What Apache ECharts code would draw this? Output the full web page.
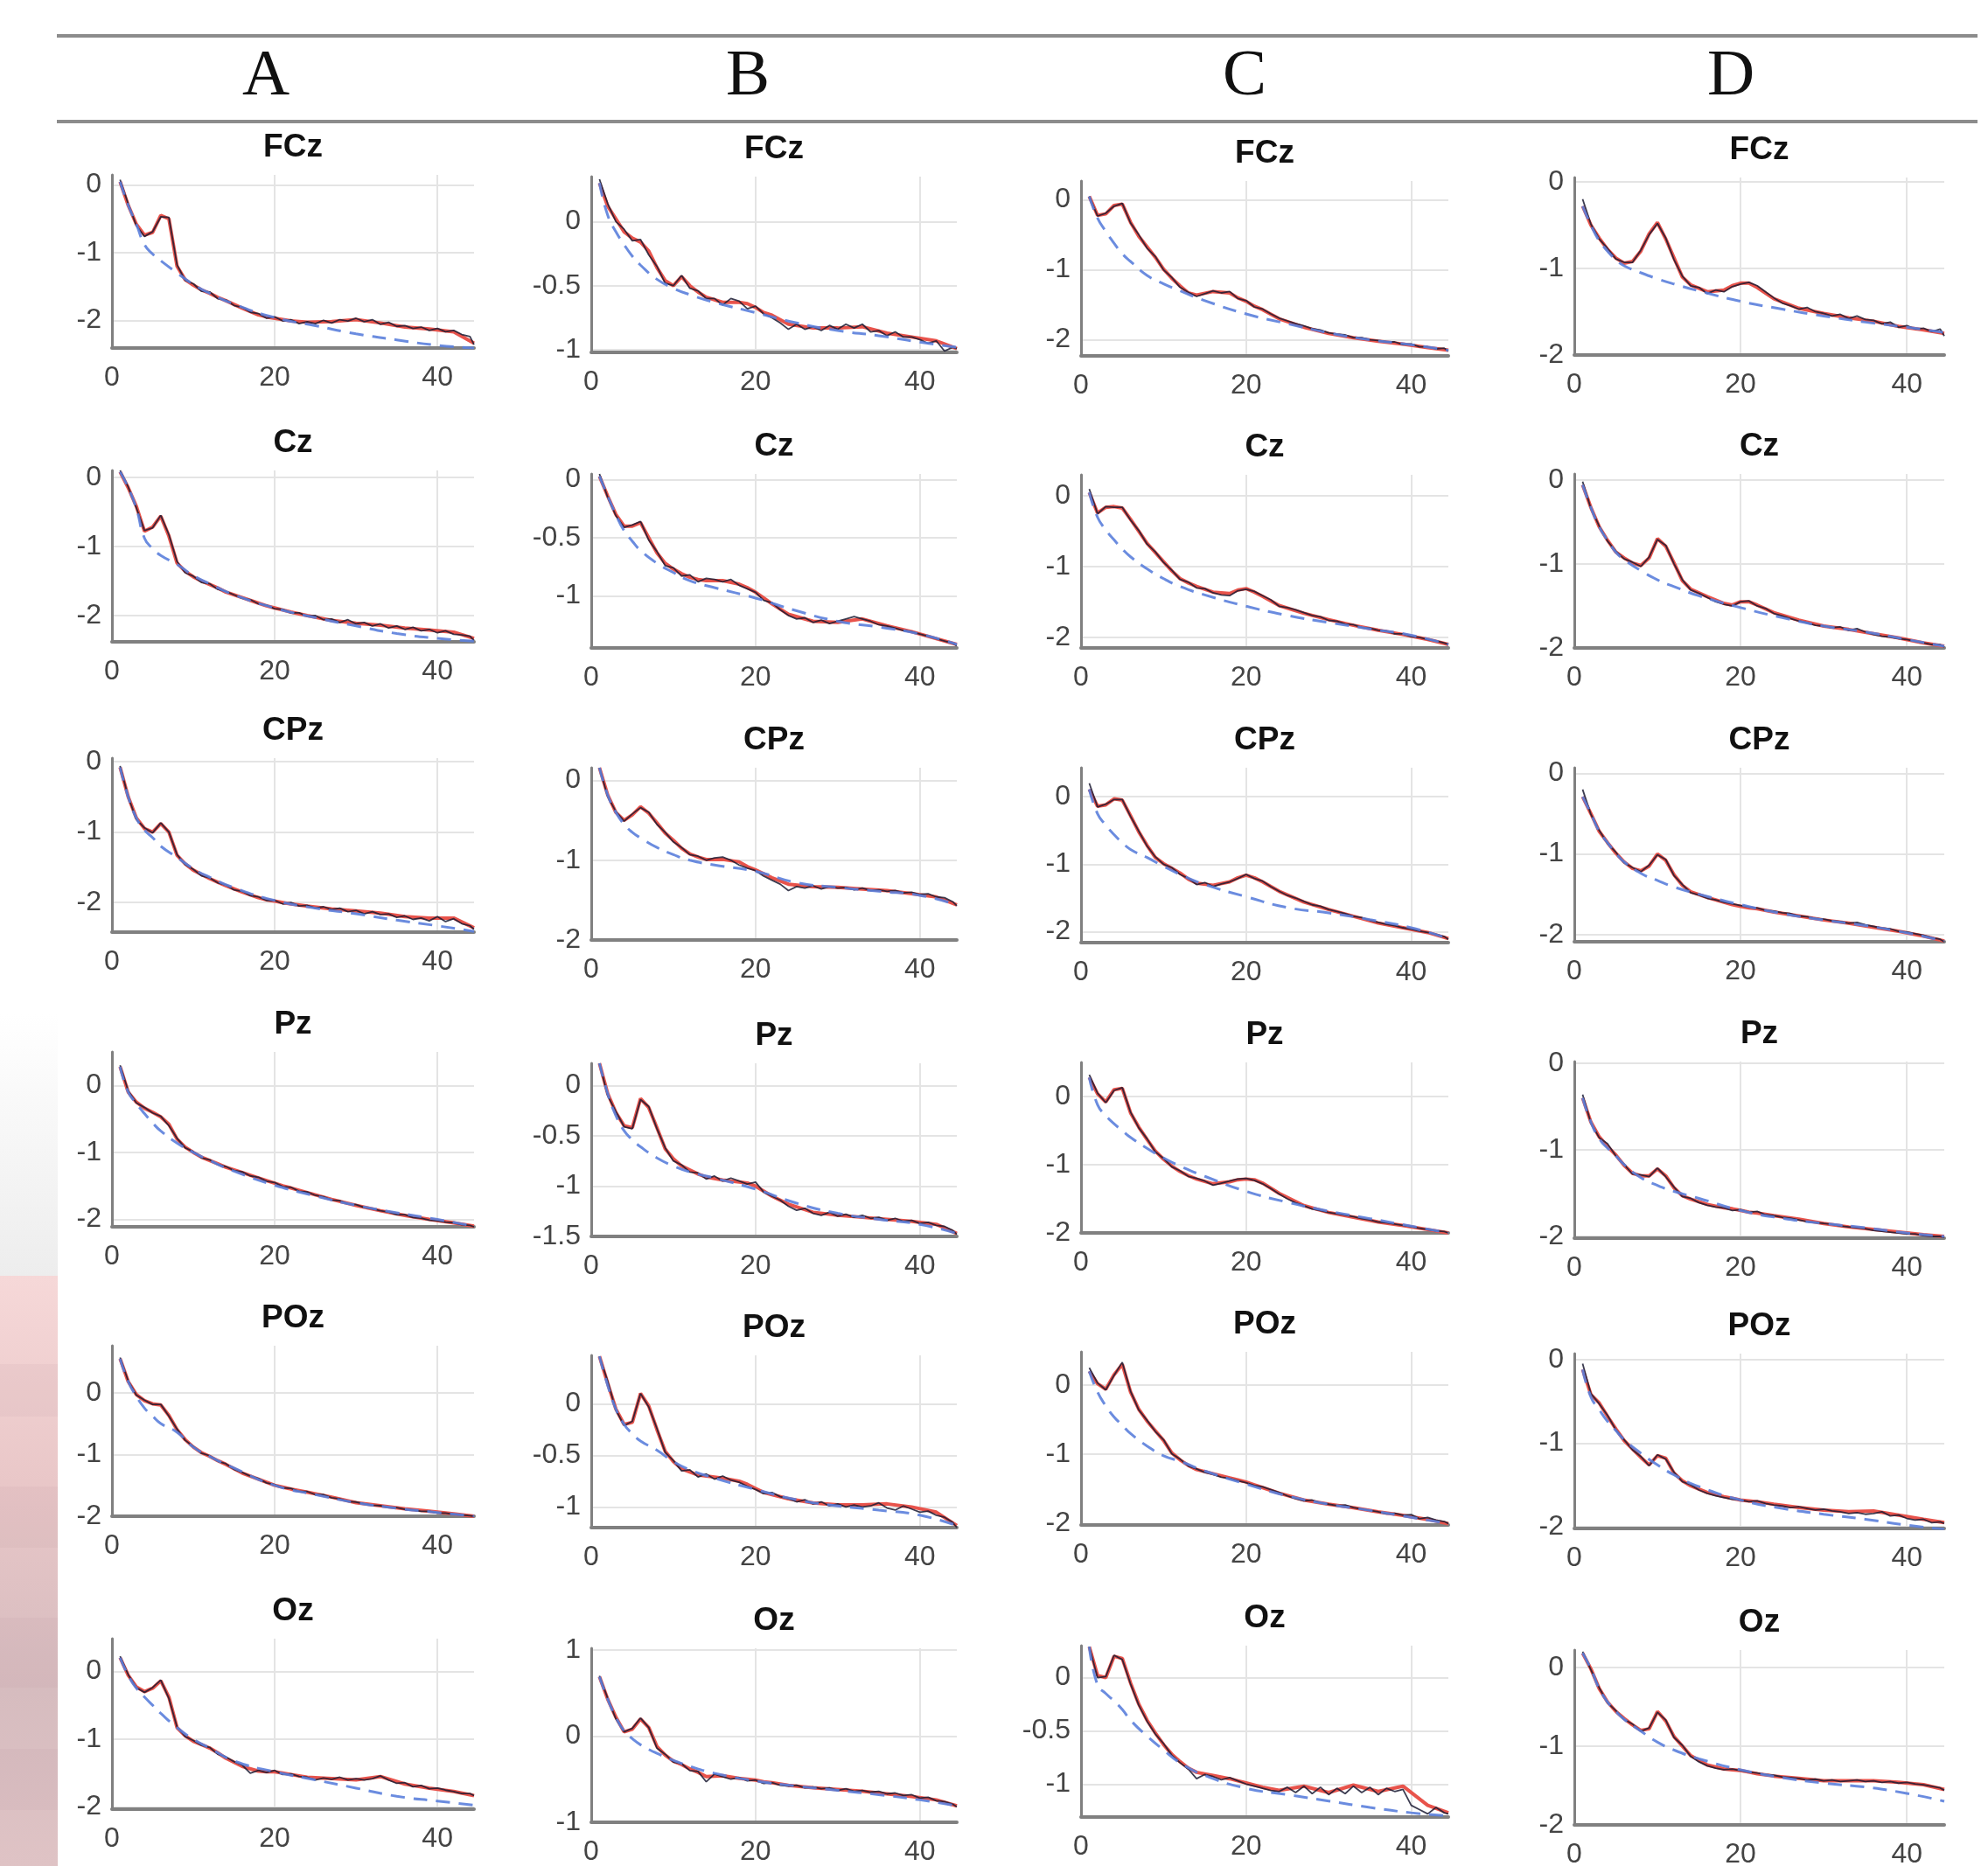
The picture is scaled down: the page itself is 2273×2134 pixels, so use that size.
<!DOCTYPE html>
<html>
<head>
<meta charset="utf-8">
<script src="https://cdn.jsdelivr.net/npm/echarts@6.0.0/dist/echarts.min.js"></script>
<style>
  html, body { margin: 0; padding: 0; background: #fff; }
  #chart { width: 2273px; height: 2134px; }
</style>
</head>
<body>
<div id="chart"></div>
<script>
// frequency grids (Hz)
const FREQ_RAW = [1, 2, 3, 4, 5, 6, 7, 8, 9, 10, 11, 12, 13, 14, 15, 16, 17, 18, 19, 20, 21, 22, 23, 24, 25, 26, 27, 28, 29, 30, 31, 32, 33, 34, 35, 36, 37, 38, 39, 40, 41, 42, 43, 44, 44.5];
const FREQ_FIT = [1, 2, 3, 4, 5, 6, 7, 8, 9, 10, 11, 12, 13, 14, 16, 18, 19, 20, 21, 22, 24, 27, 30, 33, 36, 39, 42, 44.5];
const FREQ_APER = [1, 2, 3, 4, 5, 6, 8, 10, 12, 15, 20, 25, 30, 35, 40, 44.5];

const COLUMNS = ['A', 'B', 'C', 'D'];
const CHANNELS = ['FCz', 'Cz', 'CPz', 'Pz', 'POz', 'Oz'];
const X_TICKS = [0, 20, 40];

// y ranges and tick labels, one entry per channel
const Y_RANGE_A = [[-2.41, 0.15], [-2.38, 0.1], [-2.42, 0.05], [-2.11, 0.5], [-2.0, 0.76], [-2.03, 0.48]];
const Y_RANGE_B = [[-1.02, 0.35], [-1.45, 0.05], [-2.0, 0.16], [-1.5, 0.22], [-1.2, 0.47], [-1.0, 1.02]];
const Y_RANGE_C = [[-2.23, 0.27], [-2.15, 0.3], [-2.16, 0.43], [-2.0, 0.5], [-2.02, 0.48], [-1.31, 0.3]];
const Y_RANGE_D = [[-2.0, 0.05], [-2.0, 0.07], [-2.09, 0.07], [-2.02, 0.02], [-2.02, 0.07], [-2.0, 0.22]];
const Y_TICKS_A = [[-2, -1, 0], [-2, -1, 0], [-2, -1, 0], [-2, -1, 0], [-2, -1, 0], [-2, -1, 0]];
const Y_TICKS_B = [[-1, -0.5, 0], [-1, -0.5, 0], [-2, -1, 0], [-1.5, -1, -0.5, 0], [-1, -0.5, 0], [-1, 0, 1]];
const Y_TICKS_C = [[-2, -1, 0], [-2, -1, 0], [-2, -1, 0], [-2, -1, 0], [-2, -1, 0], [-1, -0.5, 0]];
const Y_TICKS_D = [[-2, -1, 0], [-2, -1, 0], [-2, -1, 0], [-2, -1, 0], [-2, -1, 0], [-2, -1, 0]];

// measured spectrum (black)
const RAW_A = [
  [0.08, -0.28, -0.6, -0.76, -0.69, -0.47, -0.48, -1.18, -1.41, -1.46, -1.57, -1.58, -1.68, -1.7, -1.78, -1.81, -1.88, -1.9, -1.97, -1.95, -2.01, -1.99, -2.05, -2.02, -2.05, -2.0, -2.04, -1.99, -2.01, -1.97, -2.02, -1.99, -2.06, -2.03, -2.09, -2.08, -2.12, -2.1, -2.15, -2.12, -2.17, -2.15, -2.21, -2.24, -2.36],
  [0.1, -0.14, -0.44, -0.77, -0.73, -0.55, -0.83, -1.22, -1.38, -1.43, -1.52, -1.54, -1.62, -1.65, -1.7, -1.75, -1.77, -1.83, -1.85, -1.9, -1.91, -1.96, -1.96, -2.01, -2.0, -2.06, -2.05, -2.1, -2.06, -2.12, -2.1, -2.15, -2.12, -2.18, -2.15, -2.2, -2.17, -2.22, -2.2, -2.25, -2.22, -2.27, -2.28, -2.3, -2.36],
  [-0.06, -0.5, -0.82, -0.94, -1.01, -0.87, -1.0, -1.32, -1.46, -1.53, -1.62, -1.65, -1.72, -1.75, -1.82, -1.84, -1.9, -1.92, -1.97, -1.97, -2.02, -2.0, -2.05, -2.04, -2.08, -2.06, -2.1, -2.08, -2.13, -2.11, -2.16, -2.13, -2.17, -2.16, -2.21, -2.19, -2.24, -2.22, -2.26, -2.2, -2.27, -2.23, -2.3, -2.33, -2.38],
  [0.3, -0.08, -0.26, -0.33, -0.41, -0.46, -0.6, -0.79, -0.93, -0.99, -1.08, -1.11, -1.18, -1.21, -1.27, -1.29, -1.35, -1.37, -1.43, -1.45, -1.51, -1.52, -1.58, -1.59, -1.64, -1.66, -1.71, -1.72, -1.77, -1.78, -1.82, -1.84, -1.87, -1.89, -1.93, -1.93, -1.97, -1.98, -2.01, -2.02, -2.04, -2.05, -2.08, -2.09, -2.11],
  [0.57, 0.19, -0.04, -0.12, -0.19, -0.19, -0.38, -0.59, -0.77, -0.87, -0.98, -1.02, -1.11, -1.15, -1.24, -1.29, -1.35, -1.39, -1.46, -1.49, -1.54, -1.55, -1.6, -1.6, -1.65, -1.65, -1.7, -1.72, -1.76, -1.77, -1.8, -1.82, -1.83, -1.86, -1.86, -1.89, -1.9, -1.92, -1.92, -1.95, -1.95, -1.97, -1.98, -1.99, -2.0],
  [0.22, -0.05, -0.24, -0.31, -0.24, -0.13, -0.4, -0.82, -0.96, -1.02, -1.09, -1.12, -1.22, -1.26, -1.33, -1.38, -1.5, -1.46, -1.49, -1.46, -1.52, -1.51, -1.55, -1.56, -1.6, -1.57, -1.59, -1.56, -1.6, -1.58, -1.6, -1.58, -1.54, -1.6, -1.65, -1.64, -1.7, -1.68, -1.73, -1.72, -1.75, -1.77, -1.8, -1.8, -1.83]
];
const RAW_B = [
  [0.33, 0.14, 0.0, -0.06, -0.15, -0.14, -0.26, -0.35, -0.48, -0.5, -0.42, -0.52, -0.54, -0.6, -0.6, -0.65, -0.6, -0.62, -0.68, -0.66, -0.72, -0.75, -0.79, -0.84, -0.8, -0.84, -0.82, -0.85, -0.81, -0.84, -0.8, -0.83, -0.8, -0.86, -0.85, -0.89, -0.86, -0.9, -0.9, -0.92, -0.95, -0.93, -1.01, -0.98, -0.99],
  [0.05, -0.15, -0.31, -0.41, -0.39, -0.36, -0.52, -0.62, -0.74, -0.76, -0.83, -0.82, -0.88, -0.85, -0.86, -0.88, -0.86, -0.91, -0.94, -0.97, -1.04, -1.06, -1.12, -1.17, -1.2, -1.19, -1.23, -1.21, -1.24, -1.22, -1.2, -1.18, -1.2, -1.22, -1.25, -1.26, -1.28, -1.3, -1.31, -1.33, -1.35, -1.37, -1.39, -1.41, -1.43],
  [0.16, -0.2, -0.39, -0.51, -0.42, -0.34, -0.4, -0.55, -0.65, -0.77, -0.84, -0.93, -0.95, -1.0, -0.97, -0.96, -1.0, -1.06, -1.1, -1.13, -1.2, -1.25, -1.3, -1.38, -1.33, -1.35, -1.32, -1.36, -1.33, -1.35, -1.34, -1.37, -1.35, -1.38, -1.37, -1.39, -1.38, -1.41, -1.4, -1.43, -1.42, -1.46, -1.47, -1.52, -1.57],
  [0.22, -0.1, -0.26, -0.41, -0.43, -0.14, -0.21, -0.43, -0.62, -0.75, -0.79, -0.86, -0.87, -0.93, -0.9, -0.95, -0.92, -0.95, -0.98, -0.96, -1.06, -1.1, -1.14, -1.2, -1.24, -1.22, -1.27, -1.29, -1.26, -1.3, -1.28, -1.31, -1.29, -1.32, -1.31, -1.34, -1.32, -1.35, -1.34, -1.37, -1.36, -1.39, -1.4, -1.44, -1.48],
  [0.46, 0.22, -0.06, -0.21, -0.17, 0.1, -0.03, -0.24, -0.47, -0.55, -0.65, -0.64, -0.71, -0.68, -0.73, -0.7, -0.74, -0.76, -0.8, -0.83, -0.87, -0.86, -0.9, -0.92, -0.95, -0.93, -0.97, -0.95, -0.99, -0.97, -1.0, -0.98, -1.0, -0.99, -0.96, -1.01, -1.03, -0.99, -1.02, -1.05, -1.04, -1.08, -1.1, -1.15, -1.2],
  [0.7, 0.44, 0.2, 0.05, 0.09, 0.21, 0.1, -0.14, -0.21, -0.3, -0.32, -0.4, -0.41, -0.53, -0.44, -0.47, -0.5, -0.48, -0.52, -0.51, -0.55, -0.54, -0.57, -0.58, -0.57, -0.6, -0.59, -0.61, -0.6, -0.63, -0.61, -0.64, -0.63, -0.65, -0.64, -0.67, -0.66, -0.69, -0.68, -0.72, -0.71, -0.75, -0.76, -0.79, -0.82]
];
const RAW_C = [
  [0.05, -0.23, -0.19, -0.09, -0.05, -0.33, -0.5, -0.69, -0.81, -1.0, -1.11, -1.25, -1.32, -1.38, -1.34, -1.3, -1.33, -1.31, -1.41, -1.44, -1.53, -1.56, -1.63, -1.69, -1.73, -1.77, -1.8, -1.84, -1.86, -1.9, -1.92, -1.93, -1.97, -1.97, -2.0, -2.01, -2.03, -2.03, -2.07, -2.06, -2.1, -2.1, -2.13, -2.12, -2.16],
  [0.1, -0.25, -0.15, -0.16, -0.16, -0.34, -0.49, -0.68, -0.79, -0.94, -1.05, -1.18, -1.22, -1.3, -1.31, -1.37, -1.4, -1.41, -1.34, -1.32, -1.35, -1.41, -1.47, -1.56, -1.58, -1.61, -1.65, -1.69, -1.71, -1.76, -1.77, -1.81, -1.82, -1.86, -1.87, -1.9, -1.91, -1.95, -1.95, -1.99, -2.0, -2.03, -2.05, -2.08, -2.1],
  [0.2, -0.15, -0.11, -0.04, -0.04, -0.29, -0.51, -0.73, -0.89, -1.0, -1.05, -1.15, -1.21, -1.3, -1.27, -1.33, -1.29, -1.26, -1.21, -1.15, -1.21, -1.25, -1.33, -1.4, -1.46, -1.5, -1.55, -1.6, -1.62, -1.67, -1.7, -1.73, -1.77, -1.79, -1.83, -1.86, -1.89, -1.91, -1.94, -1.96, -1.99, -2.01, -2.04, -2.07, -2.11],
  [0.32, 0.05, -0.09, 0.09, 0.13, -0.23, -0.46, -0.62, -0.81, -0.91, -1.03, -1.09, -1.17, -1.2, -1.24, -1.3, -1.27, -1.24, -1.21, -1.2, -1.23, -1.28, -1.35, -1.43, -1.5, -1.56, -1.6, -1.65, -1.67, -1.7, -1.72, -1.74, -1.76, -1.79, -1.81, -1.84, -1.85, -1.87, -1.89, -1.91, -1.93, -1.95, -1.97, -1.98, -2.0],
  [0.25, 0.03, -0.07, 0.14, 0.33, -0.09, -0.36, -0.51, -0.67, -0.79, -0.99, -1.07, -1.17, -1.21, -1.26, -1.29, -1.33, -1.35, -1.38, -1.41, -1.45, -1.47, -1.51, -1.55, -1.6, -1.64, -1.67, -1.66, -1.7, -1.72, -1.74, -1.73, -1.77, -1.79, -1.81, -1.83, -1.86, -1.85, -1.88, -1.87, -1.93, -1.91, -1.95, -1.97, -2.0],
  [0.29, 0.0, 0.01, 0.21, 0.17, -0.06, -0.26, -0.41, -0.53, -0.62, -0.73, -0.8, -0.86, -0.95, -0.91, -0.93, -0.96, -0.94, -0.97, -1.0, -1.02, -1.04, -1.06, -1.07, -1.03, -1.08, -1.02, -1.09, -1.03, -1.1, -1.04, -1.09, -1.02, -1.08, -1.03, -1.1, -1.04, -1.07, -1.05, -1.2, -1.24, -1.28, -1.22, -1.27, -1.28]
];
const RAW_D = [
  [-0.2, -0.49, -0.66, -0.77, -0.89, -0.93, -0.93, -0.79, -0.61, -0.48, -0.65, -0.9, -1.09, -1.2, -1.22, -1.29, -1.25, -1.27, -1.21, -1.18, -1.16, -1.2, -1.27, -1.34, -1.4, -1.43, -1.47, -1.45, -1.5, -1.52, -1.55, -1.53, -1.58, -1.55, -1.59, -1.6, -1.64, -1.62, -1.68, -1.66, -1.7, -1.69, -1.73, -1.7, -1.78],
  [-0.02, -0.34, -0.55, -0.73, -0.85, -0.94, -0.98, -1.03, -0.92, -0.71, -0.78, -1.0, -1.19, -1.31, -1.35, -1.4, -1.45, -1.48, -1.5, -1.45, -1.44, -1.5, -1.53, -1.59, -1.62, -1.65, -1.68, -1.7, -1.73, -1.74, -1.76, -1.75, -1.79, -1.77, -1.81, -1.84, -1.86, -1.87, -1.89, -1.9, -1.92, -1.94, -1.96, -1.96, -1.99],
  [-0.2, -0.51, -0.71, -0.87, -0.98, -1.11, -1.17, -1.22, -1.14, -1.01, -1.07, -1.27, -1.38, -1.48, -1.51, -1.55, -1.57, -1.6, -1.62, -1.64, -1.66, -1.67, -1.7, -1.71, -1.73, -1.74, -1.77, -1.78, -1.8, -1.81, -1.83, -1.84, -1.86, -1.85, -1.88, -1.9, -1.92, -1.93, -1.96, -1.97, -1.99, -2.01, -2.04, -2.06, -2.09],
  [-0.36, -0.69, -0.86, -0.93, -1.07, -1.17, -1.28, -1.29, -1.31, -1.21, -1.31, -1.43, -1.54, -1.56, -1.61, -1.64, -1.66, -1.67, -1.7, -1.69, -1.72, -1.71, -1.75, -1.76, -1.78, -1.79, -1.81, -1.83, -1.84, -1.85, -1.86, -1.88, -1.89, -1.9, -1.91, -1.93, -1.94, -1.95, -1.96, -1.97, -1.97, -1.99, -2.0, -2.0, -2.01],
  [-0.05, -0.41, -0.53, -0.67, -0.84, -0.96, -1.08, -1.16, -1.27, -1.14, -1.19, -1.35, -1.46, -1.5, -1.56, -1.6, -1.63, -1.65, -1.67, -1.68, -1.7, -1.69, -1.72, -1.74, -1.75, -1.77, -1.76, -1.78, -1.8, -1.79, -1.81, -1.82, -1.84, -1.83, -1.85, -1.84, -1.82, -1.87, -1.86, -1.9, -1.92, -1.91, -1.95, -1.94, -1.96],
  [0.2, -0.03, -0.26, -0.45, -0.55, -0.66, -0.72, -0.81, -0.77, -0.57, -0.67, -0.89, -0.99, -1.13, -1.2, -1.25, -1.28, -1.3, -1.29, -1.31, -1.33, -1.34, -1.36, -1.37, -1.39, -1.4, -1.41, -1.43, -1.42, -1.44, -1.43, -1.45, -1.44, -1.43, -1.45, -1.44, -1.46, -1.45, -1.47, -1.46, -1.48, -1.49, -1.51, -1.53, -1.56]
];

// full model fit (red)
const FIT_A = [
  [0.05, -0.3, -0.58, -0.74, -0.7, -0.45, -0.5, -1.2, -1.4, -1.48, -1.55, -1.6, -1.66, -1.71, -1.82, -1.92, -1.95, -1.97, -1.99, -2.01, -2.03, -2.02, -1.99, -2.04, -2.1, -2.13, -2.17, -2.34],
  [0.08, -0.15, -0.42, -0.78, -0.72, -0.56, -0.85, -1.24, -1.36, -1.44, -1.5, -1.55, -1.6, -1.66, -1.74, -1.82, -1.86, -1.89, -1.92, -1.95, -2.0, -2.07, -2.11, -2.14, -2.18, -2.21, -2.24, -2.33],
  [-0.08, -0.5, -0.8, -0.95, -1.0, -0.88, -1.0, -1.33, -1.45, -1.54, -1.6, -1.66, -1.71, -1.76, -1.85, -1.93, -1.96, -1.98, -2.0, -2.02, -2.05, -2.09, -2.12, -2.15, -2.2, -2.22, -2.22, -2.36],
  [0.28, -0.1, -0.25, -0.34, -0.4, -0.47, -0.58, -0.8, -0.92, -1.0, -1.07, -1.12, -1.17, -1.22, -1.3, -1.38, -1.42, -1.46, -1.5, -1.53, -1.6, -1.7, -1.79, -1.87, -1.94, -2.0, -2.05, -2.1],
  [0.55, 0.18, -0.03, -0.13, -0.18, -0.2, -0.37, -0.6, -0.76, -0.88, -0.97, -1.03, -1.1, -1.16, -1.3, -1.4, -1.45, -1.5, -1.53, -1.56, -1.61, -1.69, -1.78, -1.83, -1.88, -1.92, -1.96, -2.0],
  [0.2, -0.06, -0.23, -0.3, -0.25, -0.14, -0.38, -0.83, -0.95, -1.03, -1.08, -1.13, -1.2, -1.28, -1.4, -1.47, -1.48, -1.48, -1.5, -1.52, -1.56, -1.58, -1.6, -1.55, -1.66, -1.72, -1.77, -1.83]
];
const FIT_B = [
  [0.3, 0.12, 0.02, -0.08, -0.13, -0.16, -0.23, -0.36, -0.46, -0.5, -0.43, -0.5, -0.55, -0.59, -0.63, -0.63, -0.64, -0.67, -0.71, -0.73, -0.8, -0.83, -0.83, -0.82, -0.87, -0.9, -0.93, -0.99],
  [0.03, -0.14, -0.3, -0.4, -0.4, -0.37, -0.5, -0.63, -0.72, -0.77, -0.81, -0.84, -0.86, -0.87, -0.87, -0.9, -0.93, -0.97, -1.02, -1.07, -1.16, -1.22, -1.23, -1.2, -1.26, -1.31, -1.37, -1.42],
  [0.16, -0.18, -0.4, -0.5, -0.43, -0.33, -0.41, -0.53, -0.66, -0.75, -0.85, -0.92, -0.96, -0.99, -0.99, -1.02, -1.08, -1.12, -1.17, -1.22, -1.3, -1.33, -1.34, -1.36, -1.38, -1.42, -1.46, -1.56],
  [0.22, -0.08, -0.27, -0.4, -0.42, -0.13, -0.22, -0.42, -0.63, -0.73, -0.8, -0.84, -0.88, -0.91, -0.94, -0.96, -0.97, -1.0, -1.05, -1.1, -1.18, -1.26, -1.29, -1.31, -1.33, -1.35, -1.38, -1.47],
  [0.46, 0.2, -0.05, -0.2, -0.18, 0.1, -0.02, -0.25, -0.46, -0.56, -0.63, -0.66, -0.69, -0.7, -0.72, -0.75, -0.78, -0.82, -0.86, -0.88, -0.92, -0.96, -0.98, -0.98, -0.97, -1.0, -1.05, -1.18],
  [0.69, 0.43, 0.22, 0.05, 0.08, 0.2, 0.1, -0.12, -0.22, -0.29, -0.33, -0.38, -0.42, -0.47, -0.46, -0.49, -0.5, -0.51, -0.53, -0.54, -0.57, -0.6, -0.62, -0.64, -0.67, -0.7, -0.74, -0.81]
];
const FIT_C = [
  [0.05, -0.22, -0.2, -0.08, -0.06, -0.32, -0.52, -0.67, -0.82, -0.99, -1.12, -1.23, -1.33, -1.36, -1.31, -1.33, -1.4, -1.45, -1.52, -1.57, -1.7, -1.82, -1.91, -1.97, -2.02, -2.06, -2.11, -2.15],
  [0.05, -0.24, -0.16, -0.15, -0.17, -0.33, -0.5, -0.67, -0.8, -0.93, -1.06, -1.17, -1.23, -1.28, -1.36, -1.38, -1.33, -1.31, -1.36, -1.42, -1.55, -1.66, -1.75, -1.83, -1.9, -1.96, -2.03, -2.1],
  [0.11, -0.14, -0.12, -0.03, -0.05, -0.28, -0.52, -0.72, -0.9, -0.99, -1.06, -1.13, -1.22, -1.28, -1.31, -1.26, -1.2, -1.16, -1.2, -1.26, -1.4, -1.56, -1.67, -1.77, -1.87, -1.94, -2.01, -2.1],
  [0.28, 0.04, -0.08, 0.1, 0.12, -0.24, -0.45, -0.63, -0.8, -0.92, -1.02, -1.1, -1.16, -1.21, -1.28, -1.25, -1.22, -1.21, -1.22, -1.27, -1.42, -1.6, -1.7, -1.77, -1.84, -1.89, -1.95, -2.0],
  [0.2, 0.02, -0.06, 0.15, 0.3, -0.1, -0.35, -0.52, -0.66, -0.8, -0.98, -1.08, -1.16, -1.22, -1.28, -1.34, -1.37, -1.4, -1.44, -1.48, -1.56, -1.66, -1.72, -1.77, -1.83, -1.88, -1.94, -2.0],
  [0.29, 0.02, 0.0, 0.2, 0.18, -0.05, -0.25, -0.4, -0.52, -0.63, -0.72, -0.79, -0.85, -0.89, -0.92, -0.95, -0.97, -0.99, -1.01, -1.03, -1.06, -1.02, -1.08, -1.01, -1.07, -1.02, -1.2, -1.27]
];
const FIT_D = [
  [-0.28, -0.5, -0.65, -0.78, -0.88, -0.94, -0.92, -0.8, -0.6, -0.47, -0.66, -0.88, -1.1, -1.19, -1.27, -1.25, -1.2, -1.17, -1.17, -1.22, -1.35, -1.46, -1.52, -1.57, -1.61, -1.67, -1.71, -1.75],
  [-0.06, -0.33, -0.56, -0.72, -0.86, -0.93, -0.99, -1.02, -0.93, -0.7, -0.79, -0.99, -1.2, -1.3, -1.39, -1.47, -1.49, -1.45, -1.45, -1.49, -1.58, -1.67, -1.74, -1.78, -1.83, -1.88, -1.94, -1.98],
  [-0.29, -0.5, -0.72, -0.86, -0.99, -1.1, -1.18, -1.21, -1.15, -1.0, -1.08, -1.26, -1.39, -1.47, -1.54, -1.6, -1.63, -1.65, -1.67, -1.68, -1.72, -1.77, -1.82, -1.86, -1.91, -1.96, -2.02, -2.08],
  [-0.4, -0.68, -0.85, -0.96, -1.06, -1.18, -1.27, -1.3, -1.3, -1.22, -1.3, -1.44, -1.53, -1.57, -1.63, -1.67, -1.68, -1.7, -1.72, -1.73, -1.76, -1.8, -1.85, -1.89, -1.92, -1.95, -1.98, -2.0],
  [-0.12, -0.42, -0.52, -0.68, -0.83, -0.97, -1.07, -1.17, -1.26, -1.15, -1.18, -1.36, -1.45, -1.51, -1.59, -1.64, -1.66, -1.68, -1.69, -1.7, -1.73, -1.77, -1.8, -1.82, -1.81, -1.86, -1.91, -1.95],
  [0.18, -0.02, -0.27, -0.44, -0.56, -0.65, -0.73, -0.8, -0.78, -0.56, -0.68, -0.88, -1.0, -1.12, -1.24, -1.29, -1.3, -1.31, -1.33, -1.35, -1.38, -1.41, -1.44, -1.44, -1.44, -1.46, -1.49, -1.55]
];

// aperiodic fit (blue dashed)
const APER_A = [
  [0.05, -0.3, -0.58, -0.88, -1.02, -1.12, -1.3, -1.47, -1.6, -1.76, -1.96, -2.08, -2.2, -2.29, -2.37, -2.41],
  [0.08, -0.15, -0.45, -0.88, -1.03, -1.13, -1.26, -1.42, -1.54, -1.7, -1.89, -2.03, -2.15, -2.26, -2.33, -2.37],
  [-0.08, -0.5, -0.8, -0.97, -1.08, -1.2, -1.36, -1.52, -1.64, -1.79, -1.97, -2.08, -2.16, -2.25, -2.33, -2.41],
  [0.28, -0.1, -0.27, -0.42, -0.56, -0.68, -0.86, -1.0, -1.12, -1.28, -1.49, -1.65, -1.79, -1.9, -2.0, -2.1],
  [0.55, 0.18, -0.06, -0.25, -0.38, -0.5, -0.64, -0.88, -1.03, -1.22, -1.5, -1.65, -1.78, -1.87, -1.94, -2.0],
  [0.2, -0.06, -0.25, -0.38, -0.5, -0.62, -0.83, -1.0, -1.13, -1.32, -1.48, -1.6, -1.72, -1.84, -1.91, -1.97]
];
const APER_B = [
  [0.3, 0.05, -0.08, -0.18, -0.27, -0.34, -0.45, -0.52, -0.57, -0.63, -0.71, -0.79, -0.85, -0.89, -0.94, -0.98],
  [0.03, -0.14, -0.3, -0.44, -0.53, -0.61, -0.72, -0.8, -0.87, -0.93, -1.02, -1.13, -1.22, -1.27, -1.33, -1.42],
  [0.16, -0.18, -0.4, -0.55, -0.65, -0.72, -0.84, -0.93, -1.0, -1.06, -1.14, -1.28, -1.34, -1.39, -1.44, -1.56],
  [0.22, -0.08, -0.3, -0.45, -0.54, -0.61, -0.72, -0.8, -0.86, -0.92, -1.03, -1.17, -1.27, -1.33, -1.38, -1.47],
  [0.46, 0.18, -0.05, -0.2, -0.29, -0.36, -0.45, -0.56, -0.64, -0.72, -0.83, -0.93, -0.99, -1.03, -1.08, -1.18],
  [0.69, 0.43, 0.22, 0.06, -0.03, -0.1, -0.2, -0.28, -0.35, -0.43, -0.52, -0.58, -0.63, -0.68, -0.74, -0.81]
];
const APER_C = [
  [0.05, -0.26, -0.45, -0.62, -0.77, -0.88, -1.08, -1.2, -1.3, -1.44, -1.63, -1.77, -1.9, -2.0, -2.07, -2.15],
  [0.05, -0.3, -0.48, -0.62, -0.75, -0.86, -1.03, -1.17, -1.28, -1.4, -1.56, -1.69, -1.79, -1.88, -1.97, -2.1],
  [0.11, -0.25, -0.42, -0.56, -0.68, -0.78, -0.9, -1.03, -1.15, -1.3, -1.48, -1.64, -1.72, -1.82, -1.94, -2.1],
  [0.28, -0.12, -0.28, -0.4, -0.5, -0.6, -0.76, -0.9, -1.02, -1.17, -1.39, -1.55, -1.68, -1.79, -1.9, -2.0],
  [0.2, -0.1, -0.3, -0.46, -0.58, -0.7, -0.88, -1.02, -1.1, -1.24, -1.43, -1.6, -1.72, -1.81, -1.91, -2.0],
  [0.29, -0.07, -0.15, -0.22, -0.3, -0.4, -0.55, -0.68, -0.8, -0.92, -1.04, -1.1, -1.16, -1.22, -1.27, -1.3]
];
const APER_D = [
  [-0.28, -0.5, -0.68, -0.8, -0.9, -0.97, -1.05, -1.12, -1.18, -1.26, -1.38, -1.47, -1.55, -1.62, -1.68, -1.74],
  [-0.06, -0.33, -0.56, -0.72, -0.86, -0.95, -1.08, -1.19, -1.27, -1.38, -1.52, -1.64, -1.74, -1.81, -1.9, -1.98],
  [-0.29, -0.5, -0.72, -0.86, -0.99, -1.1, -1.24, -1.33, -1.41, -1.5, -1.63, -1.74, -1.82, -1.89, -1.98, -2.08],
  [-0.4, -0.68, -0.87, -0.98, -1.07, -1.17, -1.32, -1.41, -1.48, -1.56, -1.7, -1.79, -1.85, -1.9, -1.96, -2.0],
  [-0.12, -0.45, -0.6, -0.74, -0.85, -0.96, -1.12, -1.26, -1.38, -1.52, -1.68, -1.78, -1.85, -1.91, -1.98, -2.03],
  [0.18, -0.02, -0.27, -0.44, -0.56, -0.66, -0.81, -0.95, -1.05, -1.16, -1.3, -1.4, -1.47, -1.52, -1.6, -1.7]
];

// page layout (pixels)
const COL_LEFT = [128, 676, 1236, 1800];
const COL_WIDTH = [414, 418, 420, 423];
const LETTER_X = [304, 855, 1423, 1979];
const PLOT_TOP = [
  [200, 538, 867, 1203, 1539, 1874],
  [202, 542, 878, 1216, 1550, 1885],
  [207, 543, 878, 1215, 1546, 1882],
  [203, 542, 878, 1214, 1548, 1887]
];
const PLOT_BOTTOM = [
  [398, 734, 1066, 1403, 1734, 2069],
  [403, 741, 1075, 1414, 1747, 2084],
  [407, 741, 1078, 1410, 1744, 2078],
  [406, 741, 1077, 1416, 1748, 2087]
];

const RAW = [RAW_A, RAW_B, RAW_C, RAW_D];
const FIT = [FIT_A, FIT_B, FIT_C, FIT_D];
const APER = [APER_A, APER_B, APER_C, APER_D];
const Y_RANGE = [Y_RANGE_A, Y_RANGE_B, Y_RANGE_C, Y_RANGE_D];
const Y_TICKS = [Y_TICKS_A, Y_TICKS_B, Y_TICKS_C, Y_TICKS_D];

const FONT = 'Liberation Sans, Arial, sans-serif';
const tickLabel = { fontSize: 32, color: '#444444', fontFamily: FONT };

function pairs(xs, ys) {
  return xs.map((x, k) => [x, ys[k]]);
}

(function () {
  const myChart = echarts.init(document.getElementById('chart'));
  let option = {
    animation: false,
    backgroundColor: '#ffffff',
    grid: [],
    xAxis: [],
    yAxis: [],
    series: [],
    graphic: []
  };

  // grey-to-pink page edge, bottom left
  option.graphic.push({
    type: 'rect', silent: true, z: 0,
    shape: { x: 0, y: 1160, width: 66, height: 300 },
    style: {
      fill: new echarts.graphic.LinearGradient(0, 0, 0, 1, [
        { offset: 0, color: '#ffffff' },
        { offset: 1, color: '#ededed' }
      ])
    }
  });
  option.graphic.push({
    type: 'rect', silent: true, z: 0,
    shape: { x: 0, y: 1459, width: 66, height: 675 },
    style: {
      fill: new echarts.graphic.LinearGradient(0, 0, 0, 1, [
        { offset: 0, color: '#f6d8d8' },
        { offset: 0.35, color: '#e9c7c8' },
        { offset: 0.7, color: '#d6bcbf' },
        { offset: 1, color: '#dfc3c5' }
      ])
    }
  });
  [[1560, 60], [1700, 70], [1850, 80], [2000, 70]].forEach(function (b) {
    option.graphic.push({
      type: 'rect', silent: true, z: 0,
      shape: { x: 0, y: b[0], width: 66, height: b[1] },
      style: { fill: 'rgba(190,150,155,0.1)' }
    });
  });

  // header rules and column letters
  [41, 139].forEach(function (y) {
    option.graphic.push({
      type: 'line', silent: true,
      shape: { x1: 65, y1: y, x2: 2261, y2: y },
      style: { stroke: '#8c8c8c', lineWidth: 4 }
    });
  });
  COLUMNS.forEach(function (col, c) {
    option.graphic.push({
      type: 'text', silent: true,
      x: LETTER_X[c], y: 88,
      style: {
        text: col, fill: '#111', align: 'center', verticalAlign: 'middle',
        fontSize: 75, fontFamily: 'Liberation Serif, Times New Roman, serif'
      }
    });
  });

  COLUMNS.forEach(function (col, c) {
    CHANNELS.forEach(function (ch, r) {
      const i = option.grid.length;
      const top = PLOT_TOP[c][r];
      const bottom = PLOT_BOTTOM[c][r];
      option.grid.push({
        left: COL_LEFT[c], top: top, width: COL_WIDTH[c], height: bottom - top,
        containLabel: false, outerBoundsMode: 'none'
      });
      option.xAxis.push({
        type: 'value', gridIndex: i, min: 0, max: 44.5,
        axisLine: { show: true, onZero: false, lineStyle: { color: '#808080', width: 4 } },
        axisTick: { show: false, customValues: X_TICKS },
        axisLabel: Object.assign({ customValues: X_TICKS, margin: 18 }, tickLabel),
        splitLine: { show: true, lineStyle: { color: '#e4e4e4', width: 2 } }
      });
      option.yAxis.push({
        type: 'value', gridIndex: i, min: Y_RANGE[c][r][0], max: Y_RANGE[c][r][1],
        axisLine: { show: true, onZero: false, lineStyle: { color: '#808080', width: 3 } },
        axisTick: { show: false, customValues: Y_TICKS[c][r] },
        axisLabel: Object.assign({ customValues: Y_TICKS[c][r], margin: 12 }, tickLabel),
        splitLine: { show: true, lineStyle: { color: '#e4e4e4', width: 2 } }
      });
      option.series.push({
        name: col + ' ' + ch + ' fit', type: 'line', xAxisIndex: i, yAxisIndex: i,
        showSymbol: false, symbol: 'none', silent: true,
        lineStyle: { color: '#e8534b', width: 4 },
        data: pairs(FREQ_FIT, FIT[c][r])
      });
      option.series.push({
        name: col + ' ' + ch + ' data', type: 'line', xAxisIndex: i, yAxisIndex: i,
        showSymbol: false, symbol: 'none', silent: true,
        lineStyle: { color: '#1b1b33', width: 1.8, opacity: 0.85 },
        data: pairs(FREQ_RAW, RAW[c][r])
      });
      option.series.push({
        name: col + ' ' + ch + ' aperiodic', type: 'line', xAxisIndex: i, yAxisIndex: i,
        showSymbol: false, symbol: 'none', silent: true, smooth: true,
        lineStyle: { color: '#5b80dc', width: 3, type: [16, 10], opacity: 0.9 },
        data: pairs(FREQ_APER, APER[c][r])
      });
      // channel title
      option.graphic.push({
        type: 'text', silent: true,
        x: COL_LEFT[c] + COL_WIDTH[c] / 2, y: top - 31,
        style: {
          text: ch, fill: '#111', align: 'center', verticalAlign: 'middle',
          fontSize: 37, fontWeight: 'bold', fontFamily: FONT
        }
      });
    });
  });

  myChart.setOption(option);
  window.addEventListener('resize', function () {
    myChart.resize();
  });
})();
</script>
</body>
</html>
